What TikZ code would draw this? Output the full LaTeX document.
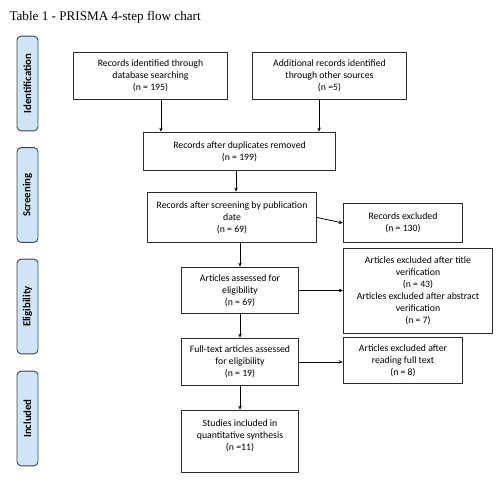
\documentclass[tikz,border=0pt]{standalone}
\usepackage{fontspec}
\setmainfont{Carlito}
\newfontfamily\titlefont{Liberation Serif}
\usetikzlibrary{arrows.meta,positioning}
\definecolor{phasefill}{HTML}{CFE5F7}
\definecolor{phaseline}{HTML}{3A4550}
\definecolor{boxline}{HTML}{2B2B2B}
\tikzset{
    box/.style={draw=boxline, line width=0.9pt, align=center, inner sep=2pt,
        font=\fontsize{9.8}{12}\selectfont},
    phase/.style={draw=phaseline, fill=phasefill, line width=0.9pt, rounded corners=4pt,
        rotate=90, minimum width=95, minimum height=21, inner sep=0pt,
        font=\fontsize{10.8}{13}\selectfont\bfseries},
    arr/.style={-{Stealth[length=4pt,width=3.5pt]}, line width=0.8pt}
}
\begin{document}
\begin{tikzpicture}[x=1bp, y=-1bp]  % pixel-like units, y downwards
    \useasboundingbox (0,0) rectangle (500,485);
    % Title
    \node[anchor=west, font=\titlefont\fontsize{13.2}{15}\selectfont] (title) at (6,17) {Table 1 - PRISMA 4-step flow chart};
    % Phase labels on the left
    \node[phase] (ph1) at (27.5,83.5)  {Identification};
    \node[phase] (ph2) at (27.5,195)   {Screening};
    \node[phase] (ph3) at (27.5,306.5) {Eligibility};
    \node[phase] (ph4) at (27.5,418.5) {Included};
    % Identification
    \node[box, minimum width=155, minimum height=48] (idA) at (150.5,76) {Records identified through\\database searching\\(n = 195)};
    \node[box, minimum width=155, minimum height=48] (idB) at (329.5,76) {Additional records identified\\through other sources\\(n =5)};
    % Screening
    \node[box, minimum width=193, minimum height=39] (dup) at (239.5,151.5) {Records after duplicates removed\\(n = 199)};
    \node[box, minimum width=170, minimum height=51] (scr) at (232,217.5) {Records after screening by publication\\date\\(n = 69)};
    \node[box, minimum width=120, minimum height=40] (excl) at (403,223) {Records excluded\\(n = 130)};
    % Eligibility
    \node[box, minimum width=150, minimum height=86] (exclT) at (418,291) {Articles excluded after title\\verification\\(n = 43)\\Articles excluded after abstract\\verification\\(n = 7)};
    \node[box, minimum width=118, minimum height=47] (elig) at (240,290.5) {Articles assessed for\\eligibility\\(n = 69)};
    \node[box, minimum width=118, minimum height=48] (full) at (240,362) {Full-text articles assessed\\for eligibility\\(n = 19)};
    \node[box, minimum width=120, minimum height=47] (exclF) at (403,360.5) {Articles excluded after\\reading full text\\(n = 8)};
    % Included
    \node[box, minimum width=118, minimum height=63] (incl) at (240,441.5) {Studies included in\\quantitative synthesis\\(n =11)\\ \mbox{}};
    % Connectors
    \draw[arr] ([xshift=10.5]idA.south) -- ([xshift=10.5]idA.south |- dup.north);
    \draw[arr] ([xshift=-10.5]idB.south) -- ([xshift=-10.5]idB.south |- dup.north);
    \draw[arr] ([xshift=-3.5]dup.south) -- ([xshift=-3.5]dup.south |- scr.north);
    \draw[arr] (scr.east) -- (excl.west);
    \draw[arr] (elig.north |- scr.south) -- (elig.north);
    \draw[arr] (elig.east) -- (elig.east -| exclT.west);
    \draw[arr] (elig.south) -- (full.north);
    \draw[arr] (full.east) -- (full.east -| exclF.west);
    \draw[arr] (full.south) -- (incl.north);
\end{tikzpicture}
\end{document}
